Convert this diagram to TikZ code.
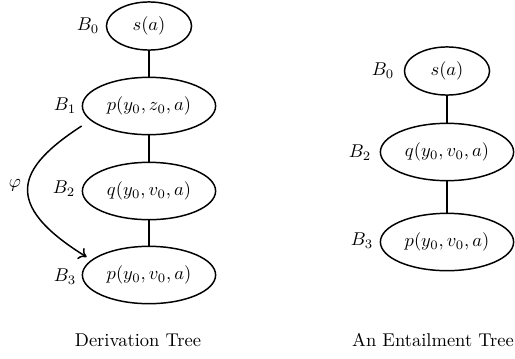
\documentclass[tikz,border=0pt]{standalone}
\usetikzlibrary{shapes.geometric,calc,arrows.meta}

\begin{document}
\begin{tikzpicture}[x=0.019cm,y=-0.019cm,
  atom/.style={ellipse,draw,line width=0.8pt,minimum width=72pt,minimum height=31pt,inner sep=1pt},
  root/.style={atom,minimum width=46pt,minimum height=26pt},
  tree/.style={line width=0.8pt}]
\useasboundingbox (0,0) rectangle (515,358);

% derivation tree
\node[root] (d0) at (149,26) {$s(a)$};
\node[atom] (d1) at (149,106) {$p(y_0,z_0,a)$};
\node[atom] (d2) at (149,191) {$q(y_0,v_0,a)$};
\node[atom] (d3) at (149,275) {$p(y_0,v_0,a)$};
\node (ld0) at (88,26) {$B_0$};
\node (ld1) at (65,106) {$B_1$};
\node (ld2) at (64,189) {$B_2$};
\node (ld3) at (65,277) {$B_3$};
\draw[tree] (d0)--(d1)--(d2)--(d3);
\draw[tree,-{To[length=4pt,width=7pt]}] ($(d1.west)+(0,20)$) .. controls (17,168) and (1,204) .. ($(d3.west)+(5,-18)$);
\node (phi) at (15,185) {$\varphi$};
\node (cap1) at (138,340) {Derivation Tree};

% entailment tree
\node[root] (e0) at (447,71) {$s(a)$};
\node[atom] (e2) at (447,152) {$q(y_0,v_0,a)$};
\node[atom] (e3) at (447,242) {$p(y_0,v_0,a)$};
\node (le0) at (383,71) {$B_0$};
\node (le2) at (360,153) {$B_2$};
\node (le3) at (362,241) {$B_3$};
\draw[tree] (e0)--(e2)--(e3);
\node (cap2) at (433,340) {An Entailment Tree};

\end{tikzpicture}
\end{document}
